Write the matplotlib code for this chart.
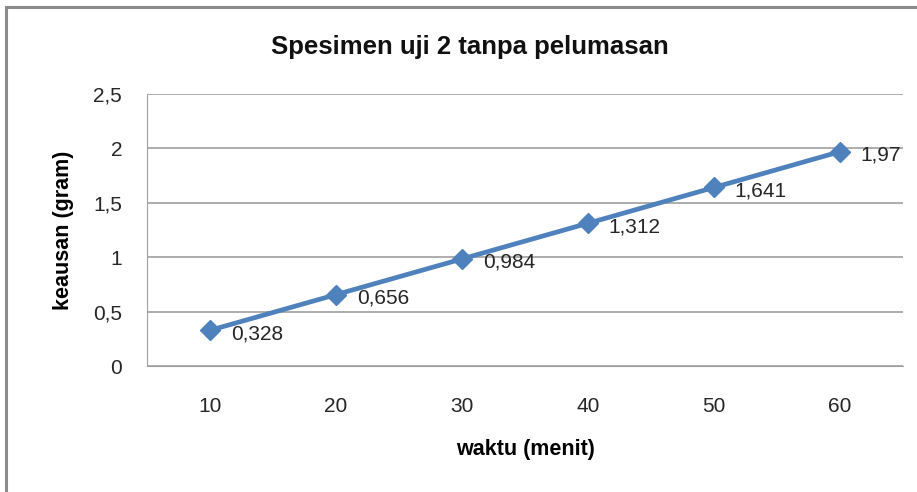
import matplotlib.pyplot as plt
from matplotlib.patches import Rectangle

# data
waktu = [10, 20, 30, 40, 50, 60]
keausan = [0.328, 0.656, 0.984, 1.312, 1.641, 1.97]
label_keausan = ['0,328', '0,656', '0,984', '1,312', '1,641', '1,97']
y_ticks = [0, 0.5, 1, 1.5, 2, 2.5]
y_ticklabels = ['0', '0,5', '1', '1,5', '2', '2,5']

plt.rcParams['font.family'] = ['Liberation Sans', 'DejaVu Sans']

fig = plt.figure(figsize=(9.17, 4.92), dpi=100)
W, H = 917, 492
ax = fig.add_axes([147 / W, 1 - 366 / H, (903 - 147) / W, (366 - 94) / H])

# outer chart border (only left and top show in the crop)
fig.add_artist(Rectangle((6 / W, -0.1), 1.2, 1 - 7 / H + 0.1, transform=fig.transFigure,
                         fill=False, edgecolor='#8c8c8c', linewidth=2.2))

x = list(range(len(waktu)))
ax.plot(x, keausan, color='#4F81BD', linewidth=3.4, marker='D', markersize=10.5,
        zorder=3, clip_on=False)
for xi, yi, lab in zip(x, keausan, label_keausan):
    ax.annotate(lab, (xi, yi), xytext=(15, -2.5), textcoords='offset points',
                ha='left', va='center', fontsize=15, color='#262626')

ax.set_xlim(-0.5, len(waktu) - 0.5)
ax.set_ylim(0, 2.5)
ax.set_yticks(y_ticks)
ax.set_yticklabels(y_ticklabels)
ax.set_xticks(x)
ax.set_xticklabels([str(w) for w in waktu])
ax.tick_params(axis='both', length=0, labelsize=15, colors='#262626')
ax.tick_params(axis='x', pad=22)
ax.tick_params(axis='y', pad=18)
ax.grid(axis='y', color='#a0a0a0', linewidth=1.2)
ax.set_axisbelow(True)
for s in ['top', 'right']:
    ax.spines[s].set_visible(False)
ax.spines['left'].set_color('#a0a0a0')
ax.spines['bottom'].set_color('#a0a0a0')

ax.set_xlabel('waktu (menit)', fontsize=15.5, fontweight='bold', labelpad=17)
ax.set_ylabel('keausan (gram)', fontsize=15.5, fontweight='bold', labelpad=14)
fig.text(470 / W, 1 - 47 / H, 'Spesimen uji 2 tanpa pelumasan', ha='center', va='center',
         fontsize=18.5, fontweight='bold', color='#111111')

fig.savefig('out.png', dpi=100)
